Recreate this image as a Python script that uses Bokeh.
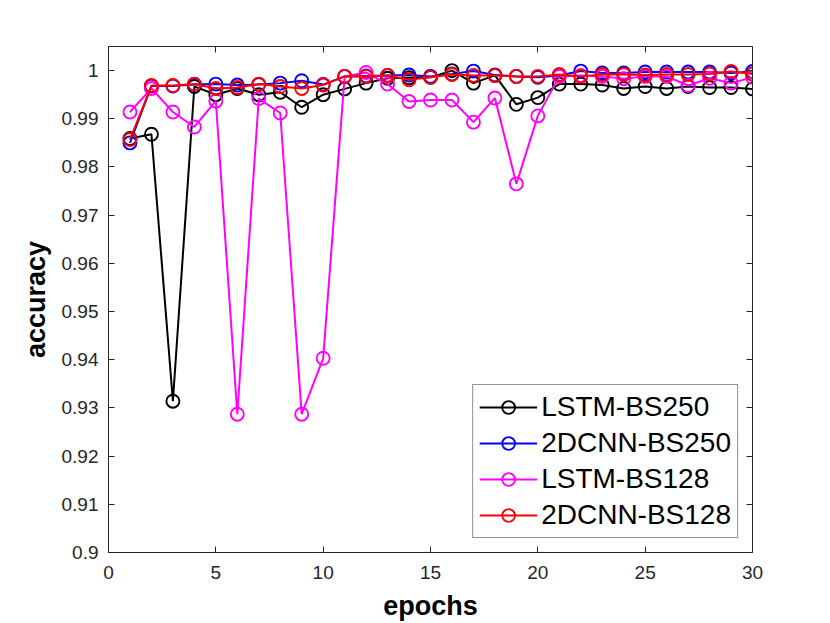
from bokeh.plotting import figure
from bokeh.models import (Range1d, LinearAxis, FixedTicker, CustomJSTickFormatter,
                          Legend, LegendItem)
from bokeh.embed import file_html
from bokeh.resources import INLINE

epochs = list(range(1, 31))
lstm_bs250 = [0.9859, 0.9868, 0.9314, 0.9967, 0.9950, 0.9963, 0.9950, 0.9955, 0.9924, 0.9950,
              0.9962, 0.9974, 0.9984, 0.9985, 0.9986, 1.0000, 0.9974, 0.9990, 0.9930, 0.9944,
              0.9972, 0.9972, 0.9970, 0.9963, 0.9967, 0.9963, 0.9967, 0.9965, 0.9965, 0.9962]
cnn_bs250 = [0.9850, 0.9968, 0.9968, 0.9971, 0.9972, 0.9970, 0.9971, 0.9974, 0.9979, 0.9971,
             0.9988, 0.9989, 0.9990, 0.9991, 0.9988, 0.9993, 0.9999, 0.9991, 0.9988, 0.9986,
             0.9990, 0.9999, 0.9995, 0.9995, 0.9997, 0.9997, 0.9997, 0.9997, 0.9995, 0.9998]
lstm_bs128 = [0.9914, 0.9963, 0.9914, 0.9883, 0.9937, 0.9287, 0.9942, 0.9912, 0.9287, 0.9403,
              0.9988, 0.9996, 0.9972, 0.9936, 0.9939, 0.9939, 0.9893, 0.9943, 0.9765, 0.9906,
              0.9988, 0.9990, 0.9988, 0.9983, 0.9988, 0.9988, 0.9969, 0.9984, 0.9974, 0.9986]
cnn_bs128 = [0.9857, 0.9969, 0.9969, 0.9972, 0.9963, 0.9965, 0.9972, 0.9967, 0.9963, 0.9970,
             0.9988, 0.9988, 0.9990, 0.9981, 0.9986, 0.9992, 0.9990, 0.9990, 0.9988, 0.9988,
             0.9992, 0.9988, 0.9992, 0.9992, 0.9991, 0.9992, 0.9992, 0.9993, 0.9998, 0.9993]

series = [("LSTM-BS250", lstm_bs250, "#000000"),
          ("2DCNN-BS250", cnn_bs250, "#0000ff"),
          ("LSTM-BS128", lstm_bs128, "#ff00ff"),
          ("2DCNN-BS128", cnn_bs128, "#ff0000")]

x_ticks = [0, 5, 10, 15, 20, 25, 30]
y_ticks = [0.9, 0.91, 0.92, 0.93, 0.94, 0.95, 0.96, 0.97, 0.98, 0.99, 1.0]

FONT = "Liberation Sans"
AX = "#262626"

p = figure(frame_width=644, frame_height=506, output_backend="svg", toolbar_location=None,
           x_range=Range1d(0, 30), y_range=Range1d(0.9, 1.005),
           min_border_left=108, min_border_right=70, min_border_top=46,
           min_border_bottom=60)
p.grid.visible = False
p.outline_line_color = None
p.background_fill_color = "white"

fmt = CustomJSTickFormatter(code="return Number(tick.toFixed(2)).toString();")
blank = CustomJSTickFormatter(code="return '';")

def style_axis(ax):
    ax.axis_line_color = AX
    ax.axis_line_width = 1
    ax.major_tick_line_color = AX
    ax.major_tick_in = 6
    ax.major_tick_out = 0
    ax.minor_tick_line_color = None
    ax.major_label_text_font = FONT
    ax.major_label_text_font_size = "19px"
    ax.major_label_text_color = AX
    ax.axis_label_text_font = FONT
    ax.axis_label_text_font_style = "bold"
    ax.axis_label_text_font_size = "27px"
    ax.axis_label_text_color = "#000000"

p.xaxis.ticker = FixedTicker(ticks=x_ticks)
p.yaxis.ticker = FixedTicker(ticks=y_ticks)
p.yaxis.formatter = fmt
p.xaxis.axis_label = "epochs"
p.yaxis.axis_label = "accuracy"
style_axis(p.xaxis[0])
style_axis(p.yaxis[0])
p.xaxis.major_label_standoff = 13
p.yaxis.major_label_standoff = 10
p.xaxis.axis_label_standoff = 9
p.yaxis.axis_label_standoff = 8

top = LinearAxis(ticker=FixedTicker(ticks=x_ticks), formatter=blank)
right = LinearAxis(ticker=FixedTicker(ticks=y_ticks), formatter=blank)
style_axis(top)
style_axis(right)
p.add_layout(top, "above")
p.add_layout(right, "right")

items = []
for name, vals, col in series:
    r1 = p.line(epochs, vals, line_color=col, line_width=2)
    r2 = p.scatter(epochs, vals, marker="circle", size=13, fill_color=None,
                   line_color=col, line_width=1.9)
    items.append(LegendItem(label=name, renderers=[r1, r2]))

legend = Legend(items=items, location="bottom_right")
legend.label_text_font = FONT
legend.label_text_font_size = "28px"
legend.label_text_color = "#000000"
legend.border_line_color = "#262626"
legend.border_line_width = 1
legend.background_fill_color = "white"
legend.background_fill_alpha = 1
legend.glyph_width = 58
legend.glyph_height = 32
legend.label_height = 32
legend.spacing = 4
legend.label_standoff = 4
legend.padding = 6
legend.margin = 14
p.add_layout(legend)

open("out.html", "w").write(file_html(p, INLINE))
